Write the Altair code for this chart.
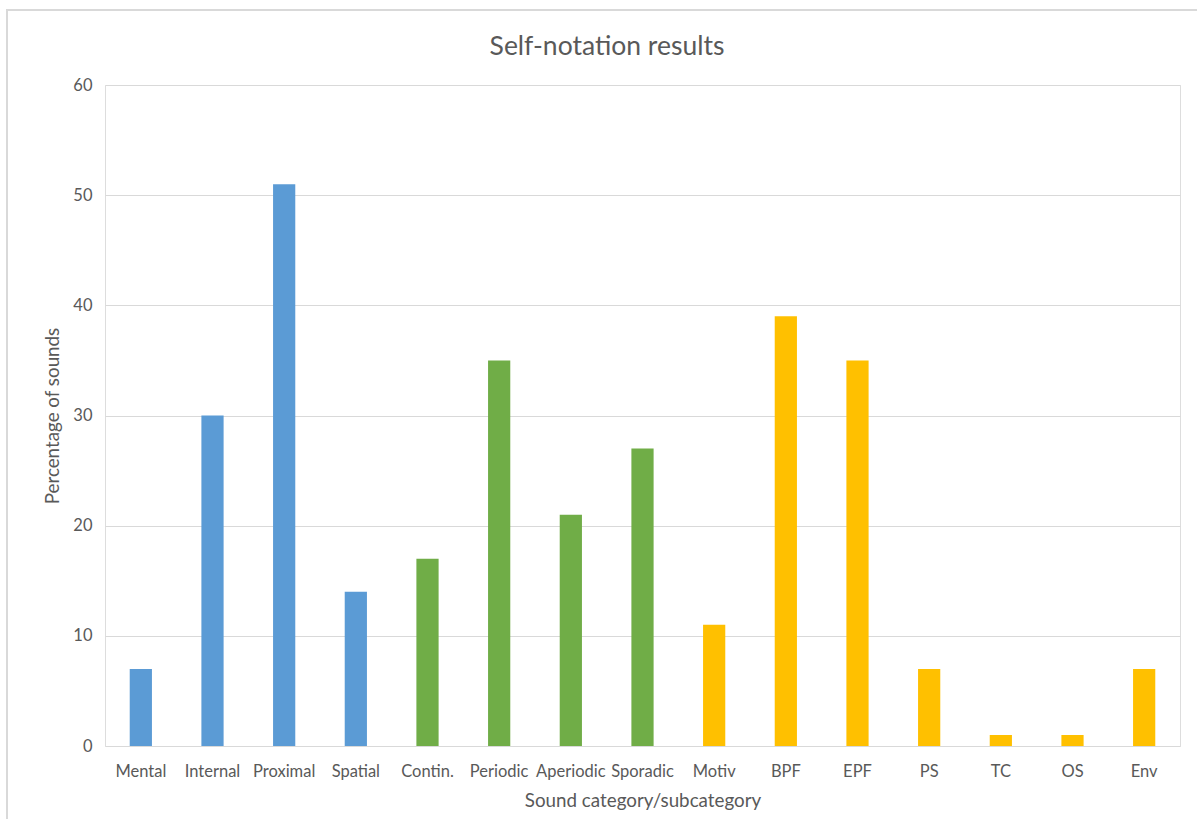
import altair as alt
import pandas as pd

# Sound categories/subcategories and the share of sounds in each
categories = ["Mental", "Internal", "Proximal", "Spatial",
              "Contin.", "Periodic", "Aperiodic", "Sporadic",
              "Motiv", "BPF", "EPF", "PS", "TC", "OS", "Env"]
values = [7, 30, 51, 14, 17, 35, 21, 27, 11, 39, 35, 7, 1, 1, 7]
groups = ["Location"] * 4 + ["Temporal"] * 4 + ["Function"] * 7

group_names = ["Location", "Temporal", "Function"]
group_colors = ["#5B9BD5", "#70AD47", "#FFC000"]

chart_title = ["Self-notation results"]

df = pd.DataFrame({"category": categories, "value": values, "group": groups})
title_df = pd.DataFrame({"label": chart_title})

FONT = "Lato"
GREY = "#595959"

bars = alt.Chart(df).mark_bar().encode(
    x=alt.X("category:N", sort=categories, title="Sound category/subcategory",
            scale=alt.Scale(paddingInner=0.69, paddingOuter=0.345),
            axis=alt.Axis(labelAngle=0, ticks=False, domain=False,
                          labelPadding=17, titlePadding=12,
                          labelFontSize=16.5, titleFontSize=18.8,
                          labelColor=GREY, titleColor=GREY,
                          labelFont=FONT, titleFont=FONT, titleFontWeight="normal")),
    y=alt.Y("value:Q", title="Percentage of sounds",
            scale=alt.Scale(domain=[0, 60]),
            axis=alt.Axis(values=list(range(0, 61, 10)), ticks=False, domain=False,
                          gridColor="#D9D9D9", labelPadding=13, titlePadding=10,
                          labelFontSize=16.5, titleFontSize=18.8,
                          labelColor=GREY, titleColor=GREY,
                          labelFont=FONT, titleFont=FONT, titleFontWeight="normal")),
    color=alt.Color("group:N", scale=alt.Scale(domain=group_names, range=group_colors),
                    legend=None),
)

# Chart heading, centred over the whole chart box
heading = alt.Chart(title_df).mark_text(
    font=FONT, fontSize=26.5, color=GREY, align="center", baseline="middle"
).encode(x=alt.value(502), y=alt.value(-38), text="label:N")

# Outer chart frame (only the top and left edges fall inside the page)
frame = alt.Chart(df).mark_rect(fill=None, stroke="#D9D9D9", strokeWidth=1.5).encode(
    x=alt.value(-98), x2=alt.value(1110),
    y=alt.value(-75), y2=alt.value(760),
)

chart = alt.layer(frame, bars, heading).properties(
    width=1075, height=661,
    padding={"left": 105, "top": 85, "right": 17, "bottom": 73},
    autosize=alt.AutoSizeParams(type="none"),
).configure_view(stroke=None).configure(background="white")

chart.save("out.html", embed_options={"renderer": "svg", "actions": False})
